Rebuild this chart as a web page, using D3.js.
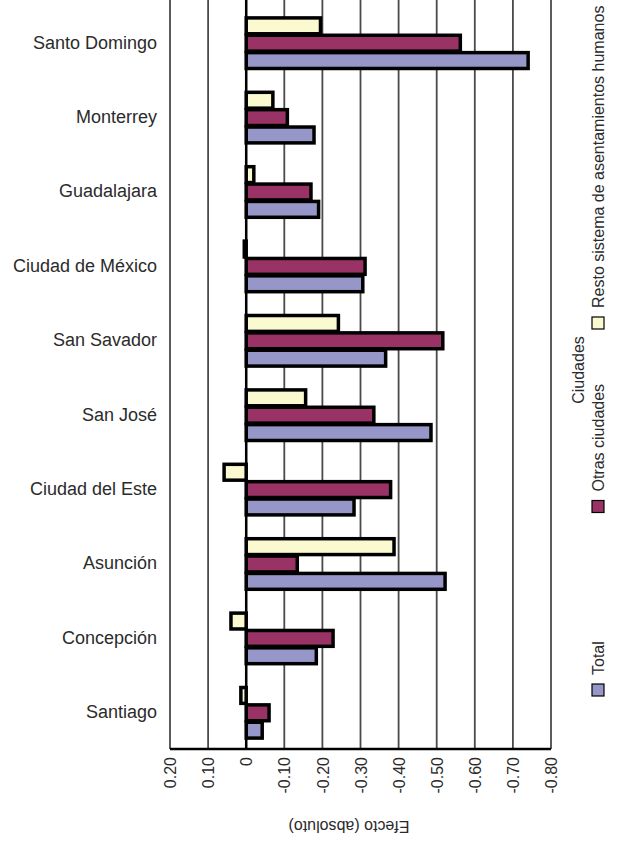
<!DOCTYPE html>
<meta charset="utf-8">
<style>
body {
  margin: 0;
  background: #fff;
  font-family: "Liberation Sans", Arial, sans-serif;
}
.grid line {
  stroke: #4a4a4a;
  stroke-width: 1.8;
}
.axis .domain {
  display: none;
}
</style>
<body>
<svg width="637" height="846"></svg>
<script src="https://cdn.jsdelivr.net/npm/d3@7/dist/d3.min.js"></script>
<script>
// data (effects are negative to the right)
var cities = ["Santo Domingo", "Monterrey", "Guadalajara", "Ciudad de México", "San Savador",
              "San José", "Ciudad del Este", "Asunción", "Concepción", "Santiago"];
var series = ["Resto sistema de asentamientos humanos", "Otras ciudades", "Total"];
var resto = [-0.195, -0.07, -0.02, 0.005, -0.242, -0.156, 0.058, -0.388, 0.04, 0.014];
var otras = [-0.562, -0.108, -0.17, -0.312, -0.516, -0.335, -0.379, -0.134, -0.228, -0.06];
var total = [-0.74, -0.178, -0.19, -0.306, -0.366, -0.485, -0.283, -0.522, -0.184, -0.042];
var tickValues = [0.2, 0.1, 0, -0.1, -0.2, -0.3, -0.4, -0.5, -0.6, -0.7, -0.8];
var tickLabels = ["0.20", "0.10", "0", "-0.10", "-0.20", "-0.30", "-0.40", "-0.50", "-0.60", "-0.70", "-0.80"];
var legendOrder = ["Total", "Otras ciudades", "Resto sistema de asentamientos humanos"];

var svg = d3.select("svg"),
    margin = {top: 5, right: 86, bottom: 97, left: 170},
    width = +svg.attr("width") - margin.left - margin.right,
    height = +svg.attr("height") - margin.top - margin.bottom,
    g = svg.append("g").attr("transform", "translate(" + margin.left + "," + margin.top + ")");

var textColor = "#2b2b2b";

var data = cities.map(function(c, i) {
  return {city: c, values: [resto[i], otras[i], total[i]]};
});

var x = d3.scaleLinear()
    .domain([0.2, -0.8])
    .range([0, width]);

var y = d3.scaleBand()
    .domain(cities)
    .range([0, height])
    .paddingInner(0.3)
    .paddingOuter(0.15);

var y1 = d3.scaleBand()
    .domain(series)
    .range([0, y.bandwidth()]);

var z = d3.scaleOrdinal()
    .domain(series)
    .range(["#fbf9d0", "#993366", "#9696c8"]);

// vertical gridlines
g.append("g")
    .attr("class", "grid")
  .selectAll("line")
  .data(tickValues)
  .enter().append("line")
    .attr("x1", function(d) { return x(d); })
    .attr("x2", function(d) { return x(d); })
    .attr("y1", -margin.top)
    .attr("y2", height);

// bars
g.append("g")
  .selectAll("g")
  .data(data)
  .enter().append("g")
    .attr("transform", function(d) { return "translate(0," + y(d.city) + ")"; })
  .selectAll("rect")
  .data(function(d) { return d.values.map(function(v, i) { return {key: series[i], value: v}; }); })
  .enter().append("rect")
    .attr("x", function(d) { return Math.min(x(0), x(d.value)); })
    .attr("y", function(d) { return y1(d.key) + 1.75; })
    .attr("width", function(d) { return Math.abs(x(d.value) - x(0)); })
    .attr("height", y1.bandwidth() - 1.5)
    .attr("fill", function(d) { return z(d.key); })
    .attr("stroke", "#000")
    .attr("stroke-width", 3.5);

// zero line
g.append("line")
    .attr("x1", x(0))
    .attr("x2", x(0))
    .attr("y1", -margin.top)
    .attr("y2", height)
    .attr("stroke", "#000")
    .attr("stroke-width", 2.5);

// bottom axis with rotated labels
g.append("g")
    .attr("class", "axis")
    .attr("transform", "translate(0," + height + ")")
    .call(d3.axisBottom(x).tickValues(tickValues).tickSize(0)
      .tickFormat(function(d, i) { return tickLabels[i]; }))
  .selectAll("text")
    .attr("font-family", "\"Liberation Sans\", Arial, sans-serif")
    .attr("font-size", 16)
    .attr("fill", textColor)
    .style("text-anchor", "end")
    .attr("x", -8)
    .attr("y", 0)
    .attr("dy", "0.35em")
    .attr("transform", "rotate(-90)");

g.append("line")
    .attr("x1", 0)
    .attr("x2", width)
    .attr("y1", height)
    .attr("y2", height)
    .attr("stroke", "#000")
    .attr("stroke-width", 2.5);

// category labels
g.append("g")
  .selectAll("text")
  .data(cities)
  .enter().append("text")
    .attr("x", -13)
    .attr("y", function(d) { return y(d) + y.bandwidth() / 2; })
    .attr("dy", "0.35em")
    .attr("text-anchor", "end")
    .attr("font-size", 18)
    .attr("fill", textColor)
    .text(function(d) { return d; });

// axis title, upside down
svg.append("text")
    .attr("transform", "translate(349,827) rotate(180)")
    .attr("text-anchor", "middle")
    .attr("dy", "0.35em")
    .attr("font-size", 16)
    .attr("fill", textColor)
    .text("Efecto (absoluto)");

// legend, vertical
svg.append("text")
    .attr("transform", "translate(578,370) rotate(-90)")
    .attr("text-anchor", "middle")
    .attr("dy", "0.35em")
    .attr("font-size", 16)
    .attr("fill", textColor)
    .text("Ciudades");

var legendY = d3.scalePoint()
    .domain(legendOrder)
    .range([690, 323]);

var legend = svg.append("g")
  .selectAll("g")
  .data(legendOrder)
  .enter().append("g")
    .attr("transform", function(d) { return "translate(598," + legendY(d) + ")"; });

legend.append("rect")
    .attr("x", -6)
    .attr("y", -6)
    .attr("width", 12)
    .attr("height", 12)
    .attr("fill", function(d) { return z(d); })
    .attr("stroke", "#000")
    .attr("stroke-width", 1.2);

legend.append("text")
    .attr("transform", "translate(0,-15) rotate(-90)")
    .attr("dy", "0.35em")
    .attr("font-size", 16)
    .attr("fill", textColor)
    .text(function(d) { return d; });
</script>
</body>
